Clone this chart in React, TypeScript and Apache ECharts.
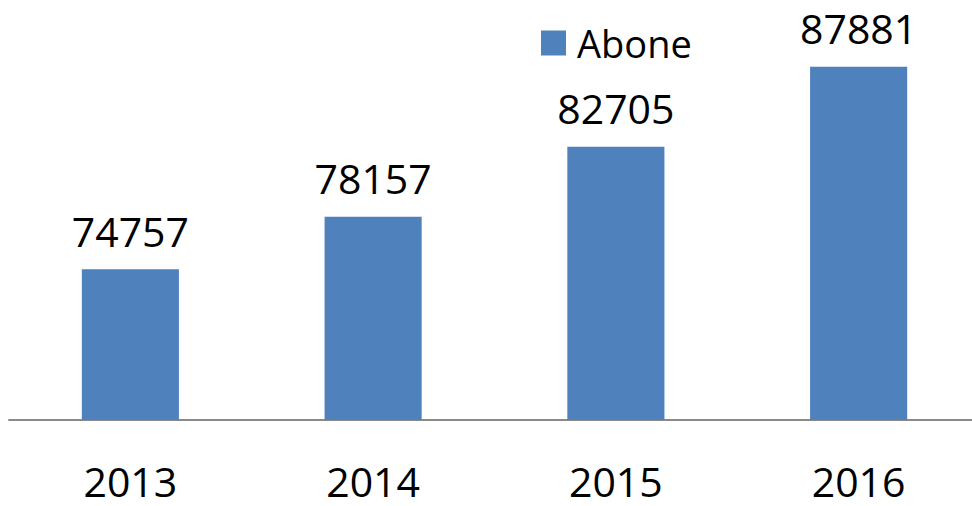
import React, { useEffect, useRef } from "react";
import * as echarts from "echarts";

const categories = ["2013", "2014", "2015", "2016"];
const seriesName = "Abone";
const values = [74757, 78157, 82705, 87881];

export default function App() {
  const ref = useRef<HTMLDivElement>(null);
  useEffect(() => {
    if (!ref.current) return;
    const chart = echarts.init(ref.current, null, { renderer: "svg" });
    const font = "'Open Sans', sans-serif";
    chart.setOption({
      animation: false,
      backgroundColor: "#ffffff",
      legend: {
        data: [seriesName],
        left: 541,
        top: 24,
        padding: 0,
        itemWidth: 25,
        itemHeight: 25,
        icon: "rect",
        textStyle: { fontFamily: font, fontSize: 38, color: "#000", padding: [0, 0, 0, 6] },
      },
      grid: { left: 9, width: 971, top: 34, bottom: 86, containLabel: false },
      xAxis: {
        type: "category",
        data: categories,
        axisLine: { show: true, lineStyle: { color: "#8a8a8a", width: 2 } },
        axisTick: { show: false },
        axisLabel: { fontFamily: font, fontSize: 41, color: "#000", margin: 40 },
      },
      yAxis: {
        type: "value",
        min: 65000,
        max: 90000,
        show: false,
        splitLine: { show: false },
      },
      series: [
        {
          name: seriesName,
          type: "bar",
          data: values,
          barWidth: "40%",
          itemStyle: { color: "#4F81BD" },
          label: {
            show: true,
            position: "top",
            distance: 18,
            fontFamily: font,
            fontSize: 41,
            color: "#000",
          },
        },
      ],
    });
    return () => chart.dispose();
  }, []);
  return (
    <div
      style={{
        position: "absolute",
        left: 0,
        top: 0,
        width: 972,
        height: 506,
        overflow: "hidden",
        background: "#fff",
      }}
    >
      <div ref={ref} style={{ width: 990, height: 506 }} />
    </div>
  );
}
